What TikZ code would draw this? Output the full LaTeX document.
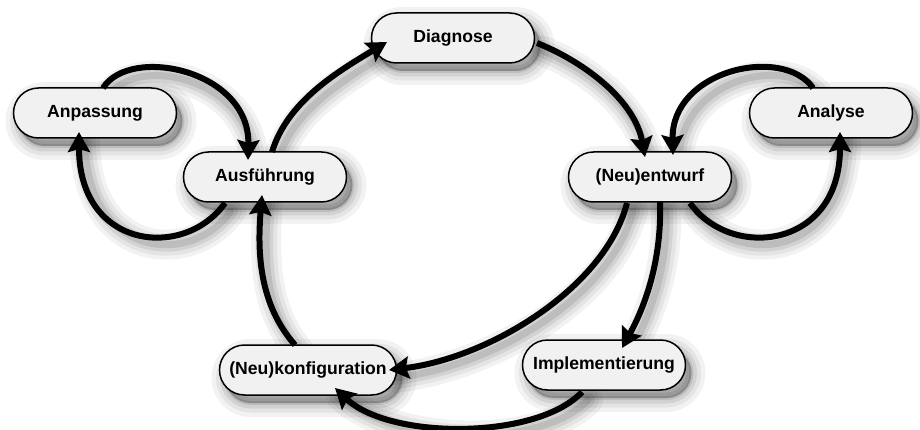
\documentclass[tikz,border=0pt]{standalone}
\usepackage{fontspec}
\setmainfont{Liberation Sans}
\usetikzlibrary{shapes.misc,arrows.meta}
\pgfdeclarelayer{bg}
\pgfsetlayers{bg,main}
\definecolor{boxfill}{HTML}{F1F1F1}
\tikzset{
  box/.style={rounded rectangle, draw=black, line width=1.5pt, fill=boxfill,
    minimum width=163pt, minimum height=50pt, inner sep=0pt,
    font=\fontsize{17.6pt}{21pt}\selectfont\bfseries,
    preaction={draw=black,fill=black,opacity=0.05,line width=28pt,transform canvas={xshift=6pt,yshift=-8pt}},
    preaction={draw=black,fill=black,opacity=0.06,line width=19pt,transform canvas={xshift=6pt,yshift=-8pt}},
    preaction={draw=black,fill=black,opacity=0.08,line width=11pt,transform canvas={xshift=6pt,yshift=-8pt}},
    preaction={draw=black,fill=black,opacity=0.10,line width=4pt,transform canvas={xshift=6pt,yshift=-8pt}}},
  conn/.style={line width=6pt, -{Stealth[length=20pt,width=22pt,inset=3pt]}}
}
\newcommand\link[1]{%
  \begin{pgfonlayer}{bg}
    \foreach \ww/\oo in {30/0.05,22/0.06,14/0.08,7/0.10}{%
      \draw[line width=\ww pt, draw opacity=\oo, line cap=round,
        transform canvas={xshift=6pt,yshift=-8pt}] #1;}
  \end{pgfonlayer}
  \draw[conn] #1;}
\begin{document}
\begin{tikzpicture}[x=1pt,y=-1pt]
\useasboundingbox (0,0) rectangle (920,430);
\node[box] (diag) at (453,38) {Diagnose};
\node[box] (anp) at (95,113) {Anpassung};
\node[box] (ausf) at (265,177) {Ausführung};
\node[box] (entw) at (650,177) {(Neu)entwurf};
\node[box] (anal) at (831,113) {Analyse};
\node[box, minimum width=177pt] (konf) at (308,370) {(Neu)konfiguration};
\node[box] (impl) at (604,365) {Implementierung};
% Ausfuehrung -> Diagnose
\link{([shift={(7,-25)}]ausf.center) .. controls +(15,-50) and +(-50,30) .. ([shift={(-66,4)}]diag.center)}
% Diagnose -> (Neu)entwurf
\link{([shift={(84,5)}]diag.center) .. controls +(50,20) and +(-10,-55) .. ([shift={(-5,-20)}]entw.center)}
% Analyse -> (Neu)entwurf
\link{([shift={(-18,-25)}]anal.center) .. controls +(-30,-43) and +(-2,-85) .. ([shift={(23,-22)}]entw.center)}
% (Neu)entwurf -> Analyse
\link{([shift={(40,26)}]entw.center) .. controls +(40,57) and +(0,118) .. ([shift={(9,19)}]anal.center)}
% (Neu)entwurf -> Implementierung
\link{([shift={(10,25)}]entw.center) .. controls +(2,60) and +(22,-40) .. ([shift={(18,-17)}]impl.center)}
% (Neu)entwurf -> (Neu)konfiguration
\link{([shift={(-23,26)}]entw.center) .. controls +(-22,85) and +(100,-12) .. ([shift={(81,0)}]konf.center)}
% Implementierung -> (Neu)konfiguration
\link{([shift={(-22,27)}]impl.center) .. controls +(-45,48) and +(55,52) .. ([shift={(27,18)}]konf.center)}
% (Neu)konfiguration -> Ausfuehrung
\link{([shift={(-13,-25)}]konf.center) .. controls +(-35,-40) and +(-5,60) .. ([shift={(-3,18)}]ausf.center)}
% Anpassung -> Ausfuehrung
\link{([shift={(8,-25)}]anp.center) .. controls +(27,-43) and +(2,-90) .. ([shift={(-17,-17)}]ausf.center)}
% Ausfuehrung -> Anpassung
\link{([shift={(-40,26)}]ausf.center) .. controls +(-40,57) and +(0,118) .. ([shift={(-16,19)}]anp.center)}
\end{tikzpicture}
\end{document}
